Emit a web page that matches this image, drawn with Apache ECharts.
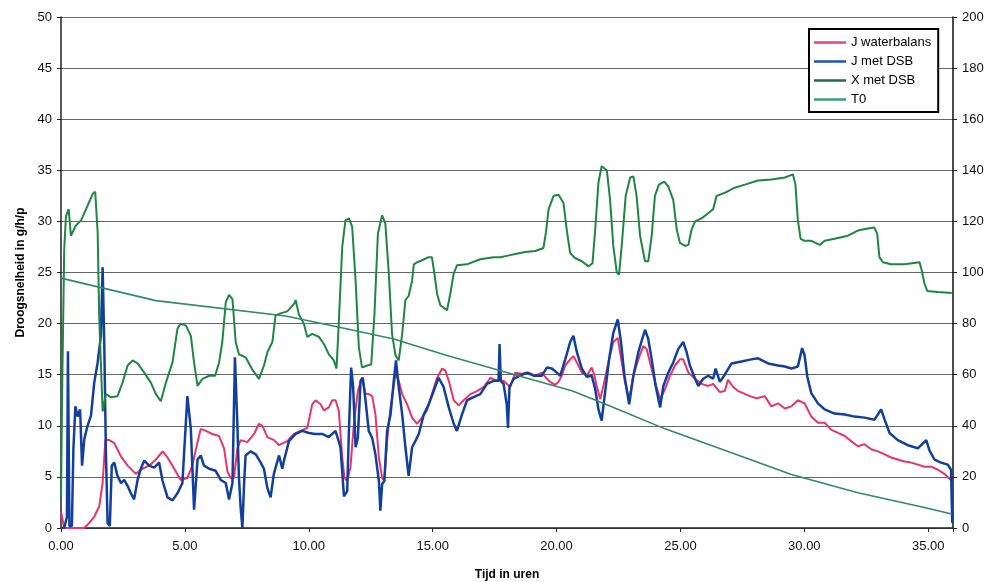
<!DOCTYPE html>
<html>
<head>
<meta charset="utf-8">
<script src="https://cdn.jsdelivr.net/npm/echarts@6/dist/echarts.min.js"></script>
<style>
html,body{margin:0;padding:0;background:#fff;}
#chart{width:997px;height:582px;}
</style>
</head>
<body>
<div id="chart"></div>
<script>
// X-axis tick labels
const xTickLabels = ['0.00','5.00','10.00','15.00','20.00','25.00','30.00','35.00'];

// J waterbalans (left axis)
const jwbT = [0,0.13,0.94,1.14,1.34,1.54,1.68,1.79,1.95,2.15,2.42,2.69,3.02,3.29,3.56,3.83,4.10,4.30,4.57,4.83,5.10,5.30,5.51,5.64,5.84,6.11,6.38,6.58,6.72,6.85,6.98,7.12,7.25,7.52,7.79,7.99,8.13,8.33,8.60,8.80,
  9.13,9.40,9.67,9.94,10.14,10.27,10.48,10.61,10.81,10.95,11.08,11.21,11.35,11.44,11.55,11.68,11.82,11.98,12.15,12.29,12.42,12.56,12.69,12.83,12.96,13.05,13.16,13.30,13.50,13.63,13.77,13.97,14.17,14.37,14.57,14.77,14.97,15.18,15.38,15.51,15.65,15.85,16.05,16.25,16.52,16.79,17.06,17.33,17.59,17.86,18.13,
  18.33,18.60,18.87,19.14,19.41,19.61,19.74,19.94,20.08,20.21,20.35,20.55,20.68,20.82,21.02,21.22,21.42,21.53,21.62,21.76,21.89,22.09,22.29,22.47,22.63,22.76,22.93,23.10,23.30,23.50,23.64,23.77,23.97,24.18,24.38,24.58,24.78,24.98,25.11,25.32,25.59,25.85,26.12,26.32,26.59,26.79,
  26.92,27.13,27.33,27.53,27.80,28.07,28.40,28.67,28.94,29.21,29.48,29.74,30.01,30.28,30.55,30.82,31.09,31.36,31.63,31.89,32.16,32.43,32.70,32.97,33.24,33.50,33.77,34.04,34.31,34.58,34.85,35.12,35.39,35.65,35.95];
const jwbV = [1.6,0,0,0.5,1.1,2.1,4.4,8.6,8.6,8.3,7.0,6.1,5.3,5.8,6.1,6.7,7.5,6.9,5.8,4.7,4.9,6.1,8.4,9.7,9.5,9.2,9.0,7.8,5.5,4.9,4.9,7.8,8.6,8.4,9.2,10.2,10.0,8.9,8.6,8.1,
  8.5,9.2,9.5,9.8,12.1,12.5,12.1,11.5,11.8,12.5,12.5,11.5,6.9,4.9,4.6,5.9,10.2,13.4,14.7,13.1,13.1,12.9,11.1,6.9,4.9,4.6,8.5,11.8,15.1,14.4,13.1,12.1,10.8,10.2,10.8,11.5,13.1,14.7,15.6,15.4,14.4,12.5,12.0,12.5,13.1,13.4,13.8,14.7,14.4,14.4,13.8,
  15.2,15.1,15.2,14.9,15.2,14.6,14.3,14.0,14.3,14.9,15.9,16.5,16.8,16.2,15.2,14.9,15.7,14.9,13.9,12.6,13.9,16.2,18.2,18.6,16.2,14.3,12.6,14.9,16.5,17.8,17.5,16.2,14.3,12.6,13.6,14.9,15.9,16.5,16.5,15.2,14.6,14.1,13.9,14.1,13.3,13.4,
  14.5,13.8,13.4,13.2,12.9,12.7,12.9,11.9,12.2,11.7,11.9,12.5,12.2,10.9,10.3,10.3,9.6,9.3,9.0,8.5,8.0,8.2,7.7,7.5,7.2,6.9,6.7,6.5,6.4,6.2,6.0,6.0,5.7,5.3,4.6];

// J met DSB (left axis)
const jdsbT = [0,0.13,0.24,0.28,0.34,0.44,0.50,0.58,0.67,0.77,0.85,0.94,1.07,1.21,1.34,1.48,1.61,1.68,1.75,1.81,1.88,1.97,2.05,2.15,2.28,2.42,2.55,2.69,2.82,2.95,3.09,3.22,3.36,3.56,3.76,3.96,4.10,4.30,4.50,4.70,4.90,5.10,5.24,5.37,5.51,5.64,5.77,5.98,6.24,6.45,6.65,6.78,6.92,7.02,7.12,7.18,7.25,7.32,7.39,7.45,7.65,7.86,8.06,8.19,8.33,8.46,8.59,8.80,8.93,
  9.00,9.20,9.47,9.74,10.01,10.27,10.54,10.81,11.08,11.28,11.42,11.55,11.62,11.71,11.79,11.89,11.98,12.09,12.18,12.29,12.42,12.56,12.69,12.83,12.89,12.96,13.05,13.16,13.30,13.43,13.52,13.63,13.77,13.90,14.03,14.17,14.30,14.44,14.64,14.84,15.04,15.24,15.44,15.65,15.85,15.98,16.18,16.39,16.65,16.92,17.19,17.46,17.66,17.70,17.75,17.86,17.99,18.04,18.10,
  18.27,18.53,18.80,19.07,19.41,19.61,19.81,20.01,20.15,20.35,20.55,20.68,20.82,21.02,21.22,21.42,21.56,21.69,21.82,21.96,22.12,22.29,22.47,22.60,22.74,22.93,23.10,23.30,23.57,23.70,23.84,24.00,24.18,24.31,24.51,24.71,24.91,25.11,25.25,25.38,25.59,25.72,25.92,26.12,26.32,26.42,26.59,26.79,
  27.06,27.46,27.86,28.13,28.54,28.94,29.21,29.48,29.74,29.91,30.01,30.12,30.28,30.55,30.82,31.22,31.63,32.03,32.43,32.83,33.10,33.24,33.44,33.77,34.18,34.58,34.92,35.05,35.25,35.52,35.79,35.92,35.97];
const jdsbV = [0,0,1.1,17.3,0.2,0.2,7.7,11.9,10.9,11.6,6.1,8.7,10.0,11.0,14.2,16.2,18.8,25.5,17.5,7.7,0.5,0.2,6.1,6.4,5.1,4.4,4.7,4.1,3.4,2.8,4.7,5.8,6.6,6.1,5.9,6.4,4.6,3.0,2.7,3.4,4.4,12.9,9.7,1.8,6.7,7.1,6.1,5.8,5.6,4.7,4.4,2.8,4.4,16.7,10.0,5.0,2.0,0,4.4,7.1,7.5,7.2,6.4,5.8,3.9,3.0,5.3,7.1,5.8,
  6.6,8.5,9.2,9.5,9.3,9.2,9.2,8.9,9.5,7.9,3.1,3.6,9.5,15.7,13.8,7.9,8.8,14.4,14.7,12.5,9.5,8.8,7.2,4.6,1.7,4.3,4.6,9.5,11.1,14.4,16.4,13.8,11.1,7.9,5.1,7.9,8.5,9.2,11.1,12.1,13.4,14.7,13.8,11.8,10.2,9.5,11.1,12.5,12.8,13.1,14.1,14.4,14.4,18.0,14.4,14.1,12.1,9.8,13.8,
  14.6,14.9,15.2,14.9,14.9,15.7,15.6,15.2,14.9,16.5,18.2,18.8,17.2,15.6,14.8,14.9,13.6,11.6,10.5,13.3,16.5,19.1,20.4,18.2,14.9,12.1,14.9,17.2,19.4,18.5,16.5,13.9,11.8,13.9,15.2,16.2,17.5,18.2,17.2,15.9,14.6,13.9,14.6,14.9,14.6,15.6,14.3,15.0,
  16.1,16.3,16.5,16.6,16.1,15.9,15.8,15.6,15.8,17.6,16.9,14.8,13.2,12.2,11.6,11.2,11.1,10.9,10.8,10.6,11.6,10.6,9.3,8.6,8.1,7.8,8.6,7.6,6.7,6.4,6.2,5.7,0.5];

// X met DSB (left axis)
const xdsbT = [0,0.05,0.13,0.2,0.31,0.40,0.60,0.81,1.01,1.28,1.38,1.48,1.54,1.68,1.81,2.01,2.28,2.48,2.69,2.89,3.09,3.36,3.63,3.83,4.03,4.23,4.50,4.70,4.83,5.04,5.24,5.37,5.51,5.71,5.98,6.22,6.38,6.51,6.65,6.78,6.92,7.05,7.18,7.45,7.72,7.99,8.19,8.33,8.53,8.66,8.86,
  9.13,9.40,9.47,9.60,9.80,9.94,10.14,10.41,10.61,10.81,11.01,11.12,11.21,11.35,11.48,11.62,11.75,11.89,12.02,12.15,12.36,12.52,12.65,12.79,12.96,13.09,13.23,13.36,13.50,13.63,13.77,13.90,14.03,14.17,14.24,14.37,14.57,14.84,14.97,15.07,15.18,15.31,15.58,15.71,15.85,15.98,16.38,16.92,17.46,17.73,18.13,
  18.33,18.74,19.14,19.47,19.57,19.68,19.88,20.08,20.28,20.41,20.55,20.75,21.02,21.29,21.45,21.56,21.69,21.82,22.03,22.16,22.29,22.43,22.52,22.63,22.79,22.97,23.10,23.23,23.37,23.57,23.70,23.84,23.97,24.13,24.35,24.51,24.71,24.85,24.98,25.18,25.32,25.45,25.59,25.85,26.12,26.32,26.46,26.79,
  27.19,27.60,28.13,28.67,29.21,29.54,29.64,29.74,29.85,30.01,30.28,30.62,30.82,31.22,31.76,32.16,32.56,32.83,32.94,33.03,33.17,33.50,34.04,34.65,34.74,34.85,34.96,35.39,35.95];
const xdsbV = [3,14,27.3,30.5,31.2,28.6,29.6,30.1,31.2,32.7,32.9,28.9,20.8,11.4,13.1,12.8,12.9,14.2,15.9,16.4,16.1,15.2,14.2,13.1,12.4,14.2,16.2,19.5,20.0,19.8,18.8,16.2,13.9,14.6,14.9,14.9,16.2,18.2,22.1,22.8,22.4,18.2,17.0,16.7,15.5,14.6,15.9,17.2,18.2,20.8,21.0,
  21.2,21.9,22.3,20.9,20.0,18.7,19.0,18.7,18.0,17.0,16.4,15.6,20.0,27.5,30.1,30.3,29.5,24.2,17.7,15.7,15.9,16.0,20.9,28.8,30.6,29.8,24.9,19.0,16.9,16.4,19.0,22.3,22.7,24.2,25.8,26.0,26.2,26.5,26.5,24.9,22.9,21.8,21.3,22.9,24.9,25.7,25.8,26.3,26.5,26.5,26.7,
  26.8,27.0,27.1,27.4,28.9,31.2,32.5,32.6,31.8,29.2,26.9,26.4,26.1,25.6,25.9,29.2,33.8,35.4,35.0,32.1,27.6,25.0,24.8,27.6,32.5,34.3,34.4,32.5,28.6,26.1,26.1,28.6,32.5,33.6,33.9,33.4,32.1,29.2,27.9,27.6,27.7,29.2,30.0,30.3,30.8,31.2,32.5,32.8,
  33.3,33.6,34.0,34.1,34.3,34.6,33.6,30.1,28.3,28.1,28.1,27.7,28.1,28.3,28.6,29.1,29.3,29.4,28.8,26.5,26.0,25.8,25.8,26.0,25.2,23.9,23.2,23.1,23.0];

// T0 (right axis)
const t0T = [0,3.83,9.07,11.28,13.43,15.58,18.13,20.62,21.96,24.38,27.2,29.48,32.16,34.85,35.95];
const t0V = [97.8,89,83,78.5,74,67.5,60.5,53.7,48.5,38.8,29,20.9,13.8,8,5.5];

const zip = (a, b) => a.map((t, i) => [t, b[i]]);

const chart = echarts.init(document.getElementById('chart'));
const font = 'Liberation Sans, Arial, sans-serif';
chart.setOption({
  animation: false,
  backgroundColor: '#fff',
  textStyle: { fontFamily: font },
  grid: { left: 61, right: 44, top: 17, bottom: 54, containLabel: false, outerBoundsMode: 'none' },
  legend: {
    orient: 'vertical',
    left: 809, top: 29,
    icon: 'rect',
    itemWidth: 32, itemHeight: 2.5, itemGap: 4,
    padding: [6, 7, 5, 5],
    borderColor: '#000', borderWidth: 2,
    backgroundColor: '#fff',
    textStyle: { fontFamily: font, fontSize: 13, color: '#000', lineHeight: 15 },
    data: [
      { name: 'J waterbalans', itemStyle: { color: '#e2457a' } },
      { name: 'J met DSB', itemStyle: { color: '#1a56b0' } },
      { name: 'X met DSB', itemStyle: { color: '#246b45' } },
      { name: 'T0', itemStyle: { color: '#36a070' } }
    ]
  },
  xAxis: {
    type: 'value', min: 0, max: 36, interval: 5,
    name: 'Tijd in uren', nameLocation: 'middle', nameGap: 41,
    nameTextStyle: { fontFamily: font, fontSize: 12, fontWeight: 'bold', color: '#000' },
    axisLine: { lineStyle: { color: '#222', width: 1.5 } },
    axisTick: { show: true, length: 4, lineStyle: { color: '#222' } },
    axisLabel: { fontFamily: font, fontSize: 13, color: '#111', margin: 12,
      formatter: v => (v % 5 === 0 ? xTickLabels[v / 5] : '') },
    splitLine: { show: false }
  },
  yAxis: [
    {
      type: 'value', min: 0, max: 50, interval: 5, position: 'left',
      name: 'Droogsnelheid in g/h/p', nameLocation: 'middle', nameGap: 34,
      nameTextStyle: { fontFamily: font, fontSize: 12, fontWeight: 'bold', color: '#000' },
      axisLine: { show: true, lineStyle: { color: '#222', width: 1.5 } },
      axisTick: { show: true, length: 4, lineStyle: { color: '#222' } },
      axisLabel: { fontFamily: font, fontSize: 13, color: '#111', margin: 9 },
      splitLine: { show: true, lineStyle: { color: '#666', width: 1.2 } }
    },
    {
      type: 'value', min: 0, max: 200, interval: 20, position: 'right',
      axisLine: { show: true, lineStyle: { color: '#111', width: 1.5 } },
      axisTick: { show: true, length: 4, lineStyle: { color: '#222' } },
      axisLabel: { fontFamily: font, fontSize: 13, color: '#111', margin: 9 },
      splitLine: { show: false }
    }
  ],
  series: [
    { name: 'J waterbalans', type: 'line', yAxisIndex: 0, symbol: 'none',
      data: zip(jwbT, jwbV), color: '#e8336c', lineStyle: { width: 2, color: '#e8336c' } },
    { name: 'J met DSB', type: 'line', yAxisIndex: 0, symbol: 'none',
      data: zip(jdsbT, jdsbV), color: '#123f9e', lineStyle: { width: 2.5, color: '#123f9e' } },
    { name: 'X met DSB', type: 'line', yAxisIndex: 0, symbol: 'none',
      data: zip(xdsbT, xdsbV), color: '#1f8642', lineStyle: { width: 2, color: '#1f8642' } },
    { name: 'T0', type: 'line', yAxisIndex: 1, symbol: 'none',
      data: zip(t0T, t0V), color: '#2e8a68', lineStyle: { width: 1.6, color: '#2e8a68' } }
  ]
});
</script>
</body>
</html>
